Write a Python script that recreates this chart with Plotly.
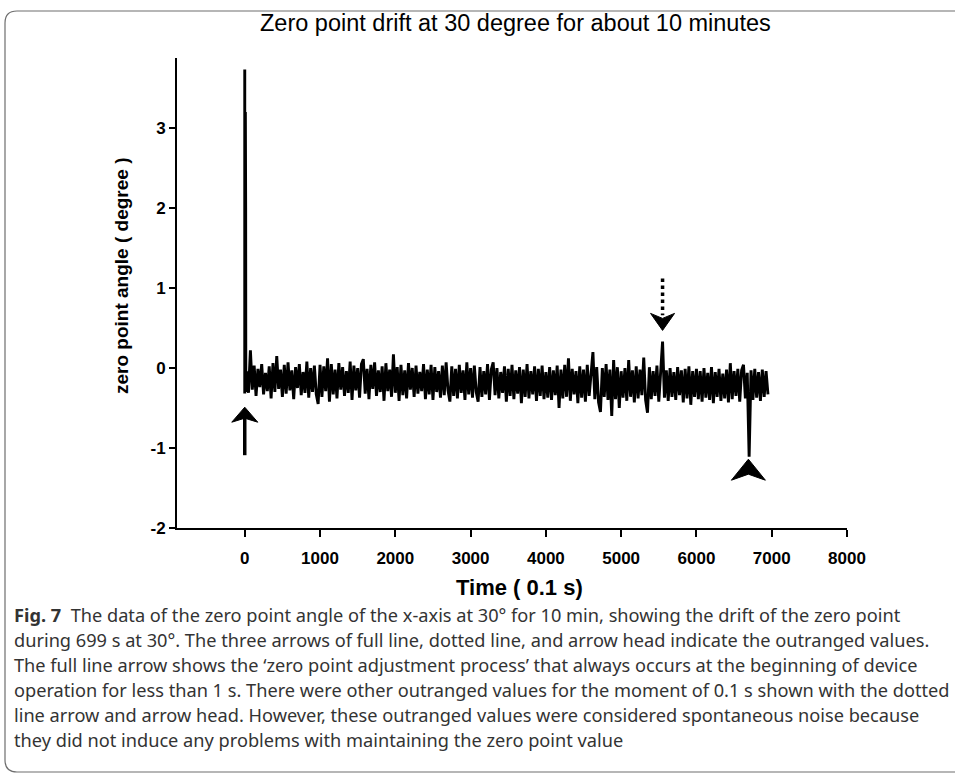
import plotly.graph_objects as go

# zero point angle: start-up spike, then samples every 25 x 0.1 s
spike_time = [0, 0, 6, 8, 12, 14]
spike_angle = [3.73, -0.32, 2.0, 3.2, 2.0, -0.3]

sample_start = 25
sample_step = 25
angle = [
    -0.04, -0.31, 0.22, -0.27, 0.03, -0.35, -0.01, -0.24, 0.05, -0.33,
    -0.06, -0.29, 0.02, -0.38, 0.06, -0.30, 0.15, -0.26, -0.02, -0.36,
    0.04, -0.32, 0.07, -0.28, -0.03, -0.39, 0.01, -0.25, 0.05, -0.34,
    -0.05, -0.31, 0.08, -0.37, 0.00, -0.30, 0.03, -0.33, -0.45, 0.04,
    -0.36, 0.02, -0.29, 0.12, -0.42, 0.05, -0.33, -0.02, -0.38, 0.06,
    -0.27, 0.01, -0.35, -0.04, -0.31, 0.08, -0.40, 0.03, -0.28, 0.00,
    -0.37, 0.05, 0.11, -0.32, -0.01, -0.39, 0.04, -0.26, 0.07, -0.35,
    -0.03, -0.30, 0.02, -0.41, 0.06, -0.29, -0.02, -0.36, 0.17, -0.31,
    0.01, -0.41, 0.04, -0.34, -0.03, -0.38, 0.06, -0.27, 0.00, -0.36,
    0.03, -0.32, -0.05, -0.29, 0.05, -0.39, -0.02, -0.33, 0.04, -0.40,
    0.01, -0.30, -0.04, -0.37, 0.03, -0.34, 0.07, -0.28, -0.42, 0.02,
    -0.35, -0.01, -0.38, 0.04, -0.31, -0.03, -0.40, 0.07, -0.33, 0.00,
    -0.37, 0.03, -0.30, -0.42, 0.01, -0.36, -0.04, -0.33, 0.05, -0.40,
    -0.02, 0.07, -0.34, 0.00, -0.38, -0.05, -0.31, 0.02, -0.42, -0.01,
    -0.35, 0.04, -0.39, -0.03, -0.32, 0.01, -0.44, -0.02, -0.36, 0.05,
    -0.38, -0.04, -0.33, 0.02, -0.41, -0.01, -0.35, 0.03, -0.39, -0.05,
    -0.37, 0.01, -0.40, -0.03, -0.34, 0.03, -0.50, -0.02, -0.38, 0.04,
    -0.36, 0.12, -0.41, -0.01, -0.33, -0.04, -0.44, 0.02, -0.37, -0.02,
    -0.42, 0.04, -0.35, -0.03, 0.20, -0.39, 0.01, -0.43, -0.55, 0.00,
    -0.36, 0.05, -0.40, -0.02, -0.60, 0.10, -0.39, 0.01, -0.50, -0.04,
    -0.37, 0.00, -0.41, 0.10, -0.36, -0.03, -0.43, 0.02, -0.38, -0.02,
    -0.34, 0.13, -0.40, -0.56, 0.01, -0.39, -0.04, -0.35, 0.03, -0.42,
    -0.02, 0.33, -0.37, -0.03, -0.41, 0.00, -0.36, -0.05, -0.40, 0.01,
    -0.34, -0.03, -0.43, -0.01, -0.38, 0.02, -0.46, -0.04, -0.36, -0.01,
    -0.39, -0.04, -0.42, 0.00, -0.37, -0.06, -0.40, 0.01, -0.44, -0.05,
    -0.36, -0.01, -0.41, -0.07, -0.38, -0.02, -0.43, 0.06, -0.39, -0.04,
    -0.35, -0.01, -0.42, -0.03, 0.04, -0.38, -0.06, -1.11, -0.03, -0.40,
    -0.01, -0.37, -0.05, -0.41, -0.02, -0.36, -0.04, -0.33,
]
time = spike_time + [sample_start + i * sample_step for i in range(len(angle))]
values = spike_angle + angle

x_ticks = [0, 1000, 2000, 3000, 4000, 5000, 6000, 7000, 8000]
y_ticks = [-2, -1, 0, 1, 2, 3]
y_tick_text = ["-2", "-1", "0", "1", "2", "3"]

caption = [
    "<b>Fig. 7</b>  The data of the zero point angle of the x-axis at 30° for 10 min, showing the drift of the zero point",
    "during 699 s at 30°. The three arrows of full line, dotted line, and arrow head indicate the outranged values.",
    "The full line arrow shows the ‘zero point adjustment process’ that always occurs at the beginning of device",
    "operation for less than 1 s. There were other outranged values for the moment of 0.1 s shown with the dotted",
    "line arrow and arrow head. However, these outranged values were considered spontaneous noise because",
    "they did not induce any problems with maintaining the zero point value",
]

# body margin is removed in the page (post_script below), so window px == figure px
W, H = 955, 774
L, T = 177, 58
PW, PH = 670, 470
R, B = W - L - PW, H - T - PH
X_RANGE = [-900, 8000]
Y_RANGE = [-2, 3.875]
DX = (X_RANGE[1] - X_RANGE[0]) / PW
DY = (Y_RANGE[1] - Y_RANGE[0]) / PH


def px_x(p):
    # window pixel -> paper fraction
    return (p - L) / PW


def px_y(p):
    return (T + PH - p) / PH


def head(x, y, half_w, length, notch, up=True):
    s = 1 if up else -1
    yb = y - s * length * DY
    yn = y - s * (length - notch) * DY
    return (f"M{x},{y} L{x + half_w * DX},{yb} L{x},{yn} "
            f"L{x - half_w * DX},{yb} Z")


SANS = "Liberation Sans, Arial, sans-serif"
axis_font = dict(family=SANS, size=17, color="black", weight="bold")

fig = go.Figure()
fig.add_trace(go.Scatter(x=time, y=values, mode="lines",
                         line=dict(color="black", width=2.9), showlegend=False))

shapes = [
    # full line arrow
    dict(type="line", xref="x", yref="y", x0=0, x1=0, y0=-1.09, y1=-0.62,
         line=dict(color="black", width=3.5)),
    dict(type="path", xref="x", yref="y", path=head(0, -0.49, 13, 15, 4),
         fillcolor="black", line=dict(color="black", width=1)),
    # dotted arrow
    dict(type="line", xref="x", yref="y", x0=5550, x1=5550, y0=1.12, y1=0.66,
         line=dict(color="black", width=3.5, dash="dot")),
    dict(type="path", xref="x", yref="y", path=head(5550, 0.47, 12, 17, 5, up=False),
         fillcolor="black", line=dict(color="black", width=1)),
    # arrow head
    dict(type="path", xref="x", yref="y", path=head(6690, -1.14, 17, 21, 6),
         fillcolor="black", line=dict(color="black", width=1)),
]

# open rounded frame around figure and caption, running off the right edge
x0, y0, x1, y1, r = px_x(5), px_y(11), px_x(1000), px_y(772), 12
rx, ry = r / PW, r / PH
frame = (f"M{x1},{y0} L{x0 + rx},{y0} Q{x0},{y0} {x0},{y0 - ry} "
         f"L{x0},{y1 + ry} Q{x0},{y1} {x0 + rx},{y1} L{x1},{y1}")
shapes.append(dict(type="path", xref="paper", yref="paper", path=frame,
                   fillcolor="rgba(0,0,0,0)", line=dict(color="#6e6e6e", width=1.2)))

annotations = [
    dict(text="Zero point drift at 30 degree for about 10 minutes", xref="paper", yref="paper",
         x=px_x(515), y=px_y(23), showarrow=False, xanchor="center", yanchor="middle",
         font=dict(family=SANS, size=23.5, color="black")),
    dict(text="<b>Time ( 0.1 s)</b>", xref="paper", yref="paper",
         x=px_x(519), y=px_y(587), showarrow=False, xanchor="center", yanchor="middle",
         font=dict(family=SANS, size=22, color="black")),
    dict(text="<b>zero point angle ( degree )</b>", xref="paper", yref="paper",
         x=px_x(121), y=px_y(276), showarrow=False, xanchor="center", yanchor="middle",
         textangle=-90, font=dict(family=SANS, size=19, color="black")),
]
for i, line in enumerate(caption):
    annotations.append(dict(text=line, xref="paper", yref="paper", x=px_x(12), y=px_y(615 + 25 * i),
                            showarrow=False, xanchor="left", yanchor="middle",
                            font=dict(family="Noto Sans, sans-serif", size=18.2, color="#333333")))

fig.update_layout(
    width=W, height=H, margin=dict(l=L, r=R, t=T, b=B),
    paper_bgcolor="white", plot_bgcolor="white",
    xaxis=dict(range=X_RANGE, tickvals=x_ticks, showgrid=False, zeroline=False,
               showline=True, linecolor="black", linewidth=2, ticks="outside",
               ticklen=7, tickwidth=2, tickcolor="black", ticklabelstandoff=7,
               tickfont=axis_font),
    yaxis=dict(range=Y_RANGE, tickvals=y_ticks, ticktext=y_tick_text, showgrid=False,
               zeroline=False, showline=True, linecolor="black", linewidth=2,
               ticks="outside", ticklen=6, tickwidth=2, tickcolor="black",
               tickfont=axis_font),
    shapes=shapes, annotations=annotations, showlegend=False,
)

fig.write_html("out.html", config={"displayModeBar": False},
               post_script="document.body.style.margin='0';document.body.style.overflow='hidden';")
